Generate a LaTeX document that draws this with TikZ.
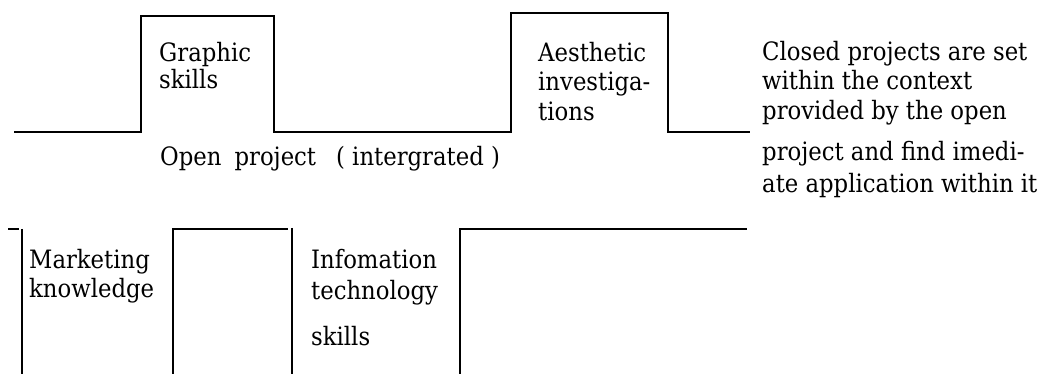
\documentclass[tikz,border=0pt]{standalone}
\usepackage{fontspec}
\setmainfont{DejaVu Serif Condensed}
\begin{document}
\begin{tikzpicture}[x=1pt,y=-1pt,
  wave/.style={line width=1.5pt,line cap=butt,line join=miter},
  txt/.style={anchor=base west,inner sep=0pt,font=\fontsize{25.3}{29}\selectfont}]
\useasboundingbox (0,0) rectangle (1052,374);
% top waveform
\draw[wave] (14,132) -- (141,132) -- (141,16) -- (274,16) -- (274,132) -- (511,132) -- (511,13) -- (668,13) -- (668,132) -- (750,132);
% bottom waveform
\draw[wave] (8,229) -- (19,229);
\draw[wave] (22,229) -- (22,374);
\draw[wave] (173,374) -- (173,229) -- (288,229);
\draw[wave] (292,228) -- (292,374);
\draw[wave] (460,374) -- (460,229) -- (747,229);
% texts
\node[txt] (g1) at (159,62) {Graphic};
\node[txt] (g2) at (159,89) {skills};
\node[txt] (a1) at (538,62) {Aesthetic};
\node[txt] (a2) at (538,91) {investiga-};
\node[txt] (a3) at (538,121) {tions};
\node[txt] (op) at (160,166) {Open\hspace{13pt}project\hspace{20pt}( intergrated )};
\node[txt] (c1) at (762,61) {Closed projects are set};
\node[txt] (c2) at (762,90) {within the context};
\node[txt] (c3) at (762,120) {provided by the open};
\node[txt] (c4) at (762,161) {project and find imedi-};
\node[txt] (c5) at (762,193) {ate application within it};
\node[txt] (m1) at (29,268) {Marketing};
\node[txt] (m2) at (29,297) {knowledge};
\node[txt] (i1) at (311,268) {Infomation};
\node[txt] (i2) at (311,299) {technology};
\node[txt] (i3) at (311,345) {skills};
\end{tikzpicture}
\end{document}
